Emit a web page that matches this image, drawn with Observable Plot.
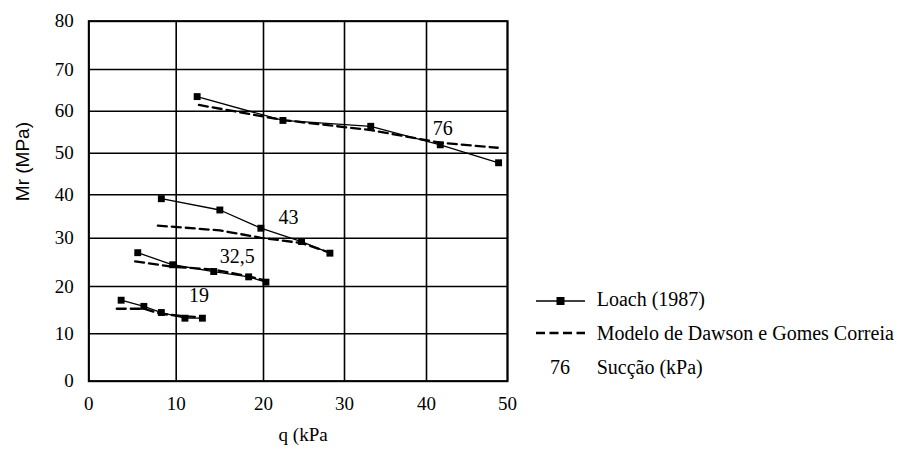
<!DOCTYPE html>
<html><head><meta charset="utf-8">
<script src="https://cdn.jsdelivr.net/npm/d3@7"></script>
<script src="https://cdn.jsdelivr.net/npm/@observablehq/plot@0.6"></script>
<style>
body{margin:0;background:#fff;}
#wrap{position:relative;width:905px;height:451px;overflow:hidden;font-family:"Liberation Serif",Tinos,"Times New Roman",Times,"DejaVu Serif",serif;color:#000;}
.leg{position:absolute;font-size:20px;line-height:20px;white-space:nowrap;}
.sym{position:absolute;}
</style></head><body><div id="wrap"></div>
<script>
const SERIF = '"Liberation Serif", Tinos, "Times New Roman", Times, "DejaVu Serif", serif';
const SANS = '"Liberation Sans", Arimo, Arial, sans-serif';
// Suction levels (kPa)
const suctions = ["76", "43", "32,5", "19"];
// Loach (1987) measured points
const loachQ = {
  "76":   [12.4, 22.4, 33.2, 41.7, 48.9],
  "43":   [8.3, 15.0, 19.7, 24.7, 28.2],
  "32,5": [5.6, 9.6, 14.3, 18.3, 20.3],
  "19":   [3.7, 6.3, 8.3, 11.0, 13.0]
};
const loachMr = {
  "76":   [63.5, 57.8, 56.4, 52.0, 47.7],
  "43":   [39.1, 36.5, 32.3, 29.3, 26.9],
  "32,5": [27.0, 24.5, 23.1, 22.0, 20.9],
  "19":   [17.1, 15.8, 14.5, 13.3, 13.3]
};
// Modelo de Dawson e Gomes Correia
const modelQ = {
  "76":   [12.6, 22.4, 33.2, 41.7, 48.8],
  "43":   [7.9, 15.0, 19.7, 24.7, 28.2],
  "32,5": [5.3, 9.6, 14.3, 18.3, 20.3],
  "19":   [3.2, 6.3, 8.3, 11.0, 13.0]
};
const modelMr = {
  "76":   [61.5, 57.9, 55.5, 52.5, 51.3],
  "43":   [32.9, 31.8, 30.1, 29.0, 27.0],
  "32,5": [25.2, 24.1, 23.5, 22.1, 21.2],
  "19":   [15.3, 15.3, 14.2, 13.7, 13.5]
};
// Curve labels (suction) positions
const labelQ = [42.0, 23.1, 17.0, 12.6];
const labelMr = [55.9, 34.8, 26.2, 18.1];
// Tick values
const xTicks = [0, 10, 20, 30, 40, 50];
const yTicks = [0, 10, 20, 30, 40, 50, 60, 70, 80];

const loach = suctions.flatMap(s => loachQ[s].map((q, i) => ({s, q, mr: loachMr[s][i]})));
const model = suctions.flatMap(s => modelQ[s].map((q, i) => ({s, q, mr: modelMr[s][i]})));
const labels = suctions.map((s, i) => ({s, q: labelQ[i], mr: labelMr[i]}));

const chart = Plot.plot({
  width: 905,
  height: 451,
  marginLeft: 88.3,
  marginRight: 398,
  marginTop: 20.7,
  marginBottom: 70.3,
  style: {fontFamily: SERIF, fontSize: "19px", color: "#000", background: "transparent"},
  x: {type: "linear", domain: xTicks, range: [88.3, 175.7, 263, 344, 426, 507]},
  y: {type: "linear", domain: yTicks, range: [380.7, 333.3, 286, 237.7, 194.3, 152.7, 110.7, 69, 20.7]},
  marks: [
    Plot.gridX(xTicks, {stroke: "#000", strokeOpacity: 1, strokeWidth: 1.6}),
    Plot.gridY(yTicks, {stroke: "#000", strokeOpacity: 1, strokeWidth: 1.6}),
    Plot.frame({stroke: "#000", strokeWidth: 2}),
    Plot.axisX(xTicks, {tickSize: 0, tickPadding: 15, label: null, fontSize: 19, fontFamily: SERIF}),
    Plot.axisY(yTicks, {tickSize: 0, tickPadding: 15, label: null, fontSize: 19, fontFamily: SERIF}),
    Plot.line(model, {x: "q", y: "mr", z: "s", stroke: "#000", strokeWidth: 2.3, strokeDasharray: "9,5"}),
    Plot.line(loach, {x: "q", y: "mr", z: "s", stroke: "#000", strokeWidth: 1.3}),
    Plot.dot(loach, {x: "q", y: "mr", symbol: "square", r: 3.9, fill: "#000", stroke: "none"}),
    Plot.text(labels, {x: "q", y: "mr", text: "s", fontSize: 20, fontFamily: SERIF, fill: "#000"}),
    Plot.text(["Mr (MPa)"], {frameAnchor: "left", dx: -66, rotate: -90, fontFamily: SANS, fontSize: 19, fill: "#000"}),
    Plot.text(["q (kPa"], {frameAnchor: "bottom", dy: 60, dx: 5, fontSize: 19, fontFamily: SERIF, fill: "#000"})
  ]
});
const wrap = document.getElementById("wrap");
chart.style.position = "absolute";
chart.style.left = "0px";
chart.style.top = "0px";
wrap.appendChild(chart);

// Legend
function addSym(html, left, top, w, h) {
  const d = document.createElement("div");
  d.className = "sym";
  d.style.left = left + "px"; d.style.top = top + "px";
  d.innerHTML = `<svg width="${w}" height="${h}">${html}</svg>`;
  wrap.appendChild(d);
}
function addText(txt, left, top) {
  const d = document.createElement("div");
  d.className = "leg";
  d.style.left = left + "px"; d.style.top = top + "px";
  d.style.fontFamily = SERIF;
  d.textContent = txt;
  wrap.appendChild(d);
}
addSym('<line x1="0" y1="10" x2="49" y2="10" stroke="#000" stroke-width="1.5"/><rect x="20.5" y="6" width="8" height="8" fill="#000"/>', 536, 291, 50, 20);
addText("Loach (1987)", 596.7, 289);
addSym('<line x1="0" y1="10" x2="49" y2="10" stroke="#000" stroke-width="2.3" stroke-dasharray="9,4.5"/>', 536, 323, 50, 20);
addText("Modelo de Dawson e Gomes Correia", 596.7, 323);
addText("76", 550, 357);
addText("Sucção (kPa)", 596.7, 357);
</script></body></html>
